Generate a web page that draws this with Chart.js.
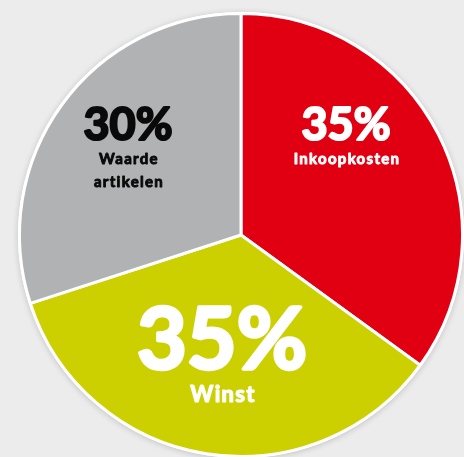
<!DOCTYPE html>
<html>
<head>
<meta charset="utf-8">
<script src="https://cdn.jsdelivr.net/npm/chart.js@4"></script>
<style>
  html, body { margin: 0; padding: 0; background: #ececec; overflow: hidden; }
  #wrap { width: 464px; height: 470px; }
</style>
</head>
<body>
<div id="wrap"><canvas id="pie"></canvas></div>
<script>
// chart data
const labels = ['Inkoopkosten', 'Winst', 'Waarde artikelen'];
const shares = [35, 35, 30];
const colors = ['#e10012', '#cccf00', '#b1b2b4'];
const textColors = ['#ffffff', '#ffffff', '#0a0a0a'];

// subtle shadow under the disc
const discShadow = {
    id: 'discShadow',
    beforeDatasetsDraw(chart) {
        const arc = chart.getDatasetMeta(0).data[0];
        const ctx = chart.ctx;
        ctx.save();
        ctx.shadowColor = 'rgba(0,0,0,0.18)';
        ctx.shadowBlur = 6;
        ctx.shadowOffsetY = 1;
        ctx.fillStyle = '#ffffff';
        ctx.beginPath();
        ctx.arc(arc.x, arc.y, arc.outerRadius + 1.5, 0, Math.PI * 2);
        ctx.fill();
        ctx.restore();
    }
};

// percentage + name labels inside the slices
const sliceLabels = {
    id: 'sliceLabels',
    afterDatasetsDraw(chart) {
        const arc = chart.getDatasetMeta(0).data[0];
        const cx = arc.x, cy = arc.y;
        const ctx = chart.ctx;
        const font = 'Lato, "DejaVu Sans", sans-serif';
        // [dx, dy, size, stroke] for the percentage, then name lines
        const spots = [
            { pct: [105, -95, 45, 2.2], lines: [[106, -71, 15, 0.9]] },
            { pct: [-19, 134, 86, 3.5], lines: [[-18, 167, 22, 1.2]] },
            { pct: [-113, -95, 45, 2.2], lines: [[-112, -71, 15, 0.9], [-112, -48, 15, 0.9]] }
        ];
        ctx.save();
        ctx.textAlign = 'center';
        ctx.textBaseline = 'alphabetic';
        ctx.lineJoin = 'round';
        spots.forEach((s, i) => {
            ctx.fillStyle = textColors[i];
            ctx.strokeStyle = textColors[i];
            ctx.letterSpacing = '0px';
            ctx.font = 'bold ' + s.pct[2] + 'px ' + font;
            ctx.lineWidth = s.pct[3];
            ctx.fillText(shares[i] + '%', cx + s.pct[0], cy + s.pct[1]);
            ctx.strokeText(shares[i] + '%', cx + s.pct[0], cy + s.pct[1]);
            const words = i === 2 ? ['Waarde', 'artikelen'] : [labels[i]];
            ctx.letterSpacing = '1.3px';
            s.lines.forEach((l, j) => {
                ctx.font = 'bold ' + l[2] + 'px ' + font;
                ctx.lineWidth = l[3];
                ctx.fillText(words[j], cx + l[0], cy + l[1]);
                ctx.strokeText(words[j], cx + l[0], cy + l[1]);
            });
        });
        ctx.restore();
    }
};

new Chart(document.getElementById('pie'), {
    type: 'pie',
    data: {
        labels: labels,
        datasets: [{
            data: shares,
            backgroundColor: colors,
            borderColor: '#ffffff',
            borderWidth: 3
        }]
    },
    options: {
        responsive: true,
        maintainAspectRatio: false,
        animation: false,
        layout: { padding: { left: 18, right: 0, top: 12, bottom: 12 } },
        plugins: {
            legend: { display: false },
            tooltip: { enabled: false }
        }
    },
    plugins: [discShadow, sliceLabels]
});
</script>
</body>
</html>
